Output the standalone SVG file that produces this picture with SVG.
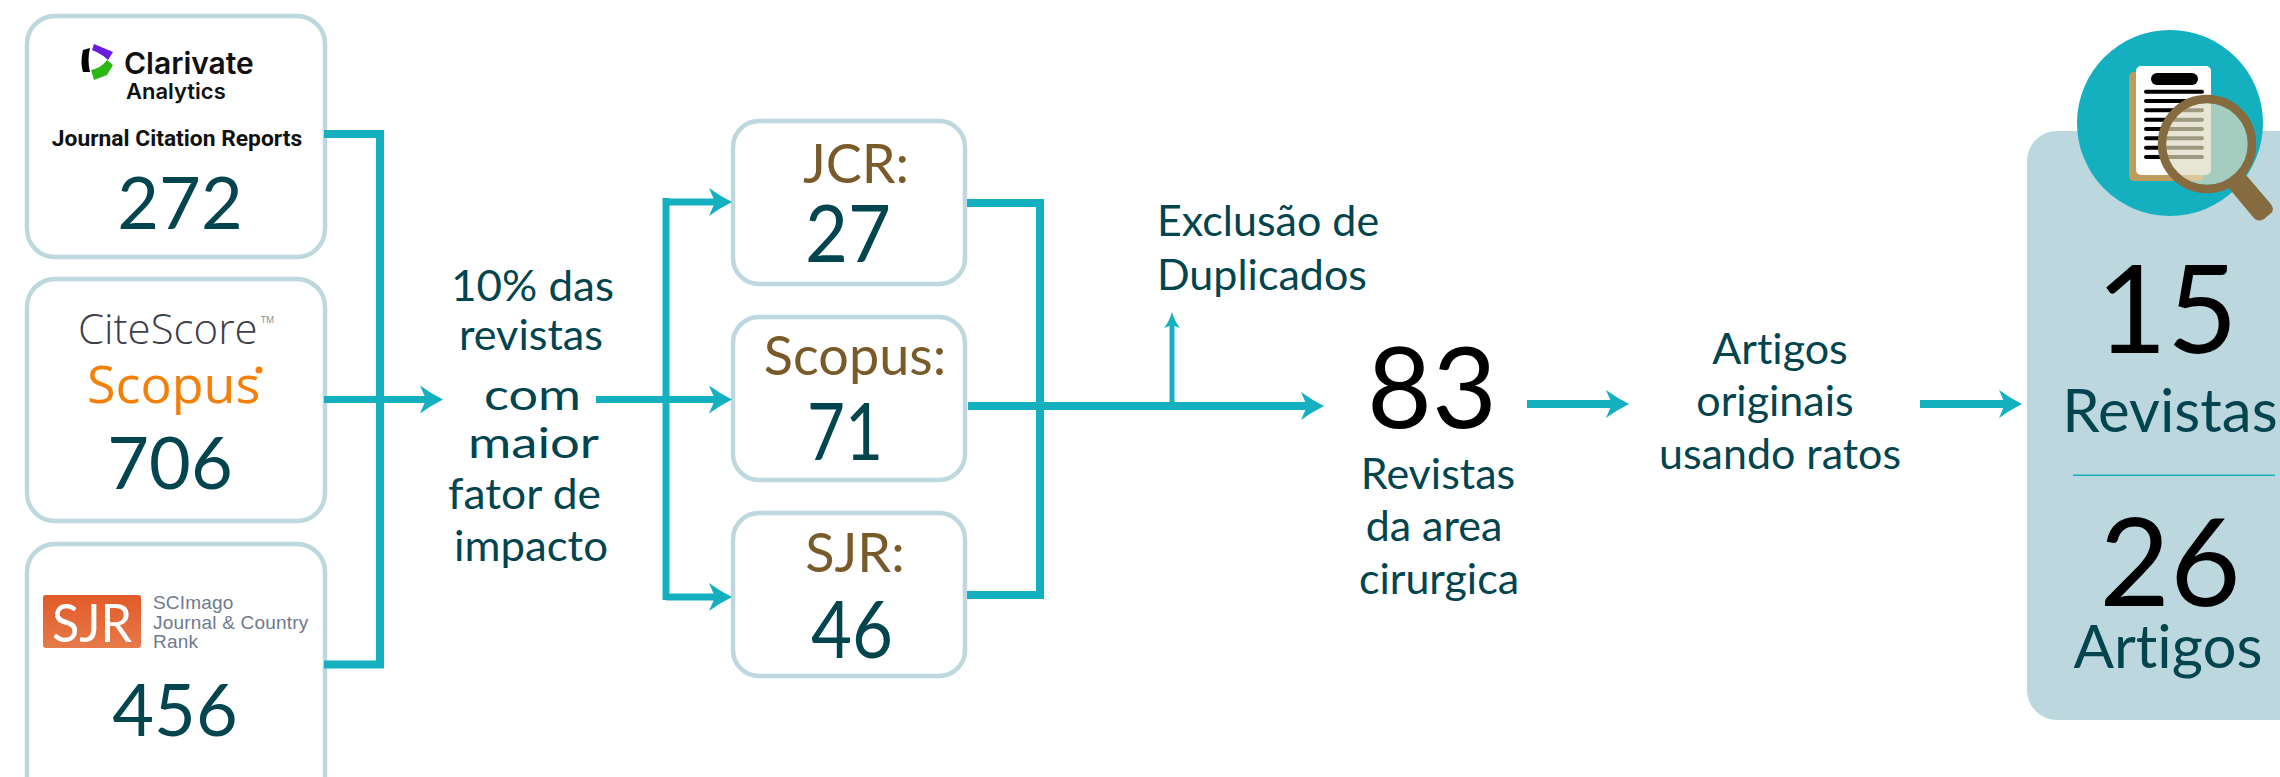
<svg xmlns="http://www.w3.org/2000/svg" width="2280" height="777" viewBox="0 0 2280 777">
<style>
text{font-variant-ligatures:none}
.box{fill:#fff;stroke:#bdd8df;stroke-width:4.5}
.t{font-family:"Lato","Open Sans",sans-serif;text-anchor:middle;fill:#03454f}
.n{font-size:72px}
.l{font-size:43px}
.s{text-anchor:start}
.b{fill:#795a29;font-size:54px}
.m{font-size:80px}
.k{fill:#000}
.w{fill:none;stroke:#14b0c0;stroke-width:8}
.v{fill:none;stroke:#14b0c0;stroke-width:7}
.a{fill:#14b0c0}
</style>
<defs>
<linearGradient id="sj" x1="0" y1="0" x2="0" y2="1"><stop offset="0" stop-color="#e25b28"/><stop offset="1" stop-color="#e67a4a"/></linearGradient>
<clipPath id="lens"><circle cx="2207" cy="144" r="41"/></clipPath>
<path id="ah" d="M0 0Q-12 6 -23 14L-17 0L-23 -14Q-12 -6 0 0Z"/>
</defs>
<g id="panel"><rect x="2027" y="131" width="300" height="589" rx="30" fill="#bdd7df"/>
<text class="t k" x="2167" y="353" font-size="122">15</text>
<text class="t" x="2170" y="432" font-size="60">Revistas</text>
<rect x="2073" y="474.500" width="202" height="1.500" fill="#14b0c0"/>
<text class="t k" x="2170" y="606" font-size="122">26</text>
<text class="t" x="2168" y="668" font-size="60">Artigos</text>
</g>
<g id="icon">
<circle cx="2170" cy="123" r="93" fill="#14b0c0"/>
<rect x="2129" y="72" width="75" height="109" rx="5" fill="#bd9c5d"/>
<rect x="2136" y="66" width="75" height="109" rx="5" fill="#fff"/>
<rect x="2151" y="73" width="47" height="12" rx="6" fill="#000"/>
<path stroke="#000" stroke-width="4" stroke-linecap="round" d="M2146 91.700H2202M2146 101H2202M2146 110.300H2202M2146 119.700H2202M2146 129H2202M2146 138.300H2202M2146 147.700H2202M2146 157H2202"/>
<circle cx="2207" cy="144" r="41" fill="#a4cdbf"/>
<g clip-path="url(#lens)"><rect x="2129" y="72" width="75" height="109" rx="5" fill="#d6c79f"/><rect x="2136" y="66" width="75" height="109" rx="5" fill="#e7e5d3"/>
<path stroke="#9e9a82" stroke-width="4" stroke-linecap="round" d="M2146 110.300H2202M2146 119.700H2202M2146 129H2202M2146 138.300H2202M2146 147.700H2202M2146 157H2202"/></g>
<circle cx="2207" cy="144" r="45" fill="none" stroke="#866b40" stroke-width="8.500"/>
<path d="M2246 175L2270 203Q2276 210 2270 214L2264 219Q2258 223 2253 217L2228 187Z" fill="#866b40"/>
</g>
<g id="jcr-source"><rect class="box" x="27" y="16" width="298" height="241" rx="28"/>
<path d="M90 48L83 50Q80 62 83 72L90 72Q87 60 90 48Z" fill="#000"/>
<path d="M94 44L113 52L108 60Q102 54 92 50Z" fill="#6a1be0"/>
<path d="M113 65L107 60Q101 68 91 70L94 80L107 75Z" fill="#2bb815"/>
<text x="124" y="74" font-family="Inter,sans-serif" font-weight="600" font-size="30" fill="#111">Clarivate</text>
<text x="126" y="99" font-family="Inter,sans-serif" font-weight="600" font-size="22" fill="#111">Analytics</text>
<text x="177" y="146" font-family="Roboto,sans-serif" font-weight="700" font-size="22.800" fill="#111" text-anchor="middle">Journal Citation Reports</text>
<text class="t n" x="180" y="229">272</text></g>
<g id="scopus-source"><rect class="box" x="27" y="279" width="298" height="242" rx="28"/>
<text x="78" y="344" font-family="Open Sans,sans-serif" font-weight="300" font-size="42" fill="#3f3f4a">CiteScore</text>
<text x="261" y="323" font-family="Open Sans,sans-serif" font-size="9" fill="#888">TM</text>
<text x="87" y="403" font-family="Open Sans,sans-serif" font-size="52" font-weight="500" fill="#f58009">Scopus</text>
<circle cx="259" cy="370" r="3.500" fill="#f58009"/>
<text class="t n" x="170" y="489">706</text></g>
<g id="sjr-source"><rect class="box" x="27" y="544" width="298" height="260" rx="28"/>
<rect x="43" y="595" width="98" height="53" rx="3" fill="url(#sj)"/>
<text x="52" y="642" font-family="Lato,sans-serif" font-size="53" fill="#fff" textLength="80" lengthAdjust="spacingAndGlyphs">SJR</text>
<text font-family="Liberation Sans,sans-serif" font-size="19" letter-spacing=".2" fill="#6f7a8f"><tspan x="153" y="609">SCImago</tspan><tspan x="153" y="629">Journal &amp; Country</tspan><tspan x="153" y="648">Rank</tspan></text>
<text class="t n" x="175" y="736">456</text></g>
<g id="filter">
<text class="t l s" x="451" y="301" textLength="163" lengthAdjust="spacingAndGlyphs">10% das</text>
<text class="t l s" x="459" y="350" textLength="144" lengthAdjust="spacingAndGlyphs">revistas</text>
<text class="t l s" x="484" y="410" textLength="97" lengthAdjust="spacingAndGlyphs">com</text>
<text class="t l s" x="468" y="458" textLength="131" lengthAdjust="spacingAndGlyphs">maior</text>
<text class="t l s" x="448" y="509" textLength="153" lengthAdjust="spacingAndGlyphs">fator de</text>
<text class="t l s" x="454" y="561" textLength="154" lengthAdjust="spacingAndGlyphs">impacto</text></g>
<g id="jcr"><rect class="box" x="733" y="121" width="232" height="163" rx="26"/><text class="t b" x="856" y="183">JCR:</text><text class="t m" x="848" y="262" textLength="86" lengthAdjust="spacingAndGlyphs">27</text></g>
<g id="scopus"><rect class="box" x="733" y="317" width="232" height="163" rx="26"/><text class="t b" x="855" y="375">Scopus:</text><text class="t m" x="845" y="460" textLength="76" lengthAdjust="spacingAndGlyphs">71</text></g>
<g id="sjr"><rect class="box" x="733" y="513" width="232" height="163" rx="26"/><text class="t b" x="855" y="572">SJR:</text><text class="t m" x="852" y="658" textLength="82" lengthAdjust="spacingAndGlyphs">46</text></g>
<g id="excl"><text class="t l s"><tspan x="1157" y="236">Exclusão de</tspan><tspan x="1157" y="290">Duplicados</tspan></text></g>
<g id="total"><text class="t k" x="1432" y="428" font-size="112">83</text><text class="t l"><tspan x="1438" y="489">Revistas</tspan><tspan x="1434" y="541">da area</tspan><tspan x="1439" y="594">cirurgica</tspan></text></g>
<g id="orig"><text class="t l"><tspan x="1780" y="364">Artigos</tspan><tspan x="1775" y="416">originais</tspan><tspan x="1780" y="469">usando ratos</tspan></text></g>
<g id="connectors">
<path class="w" d="M324 134H380V664.500H324"/>
<path class="v" d="M324 399.500H428"/><use href="#ah" x="443" y="399.500" class="a"/>
<path class="v" d="M596 399.500H717"/><use href="#ah" x="732" y="399.500" class="a"/>
<path class="v" d="M666 202H717M666 198V600M666 597H717"/>
<use href="#ah" x="732" y="202" class="a"/><use href="#ah" x="732" y="597" class="a"/>
<path class="w" d="M967 203H1040V595H967"/>
<path class="w" d="M968 406H1309"/><use href="#ah" x="1324" y="406" class="a"/>
<path class="v" style="stroke-width:5" d="M1172 404V322"/><path class="a" d="M1172 312Q1175 322 1180 328L1172 325L1164 328Q1169 322 1172 312Z"/>
<path class="w" d="M1527 404H1614"/><use href="#ah" x="1629" y="404" class="a"/>
<path class="w" d="M1920 404H2007"/><use href="#ah" x="2022" y="404" class="a"/>
</g>
</svg>
